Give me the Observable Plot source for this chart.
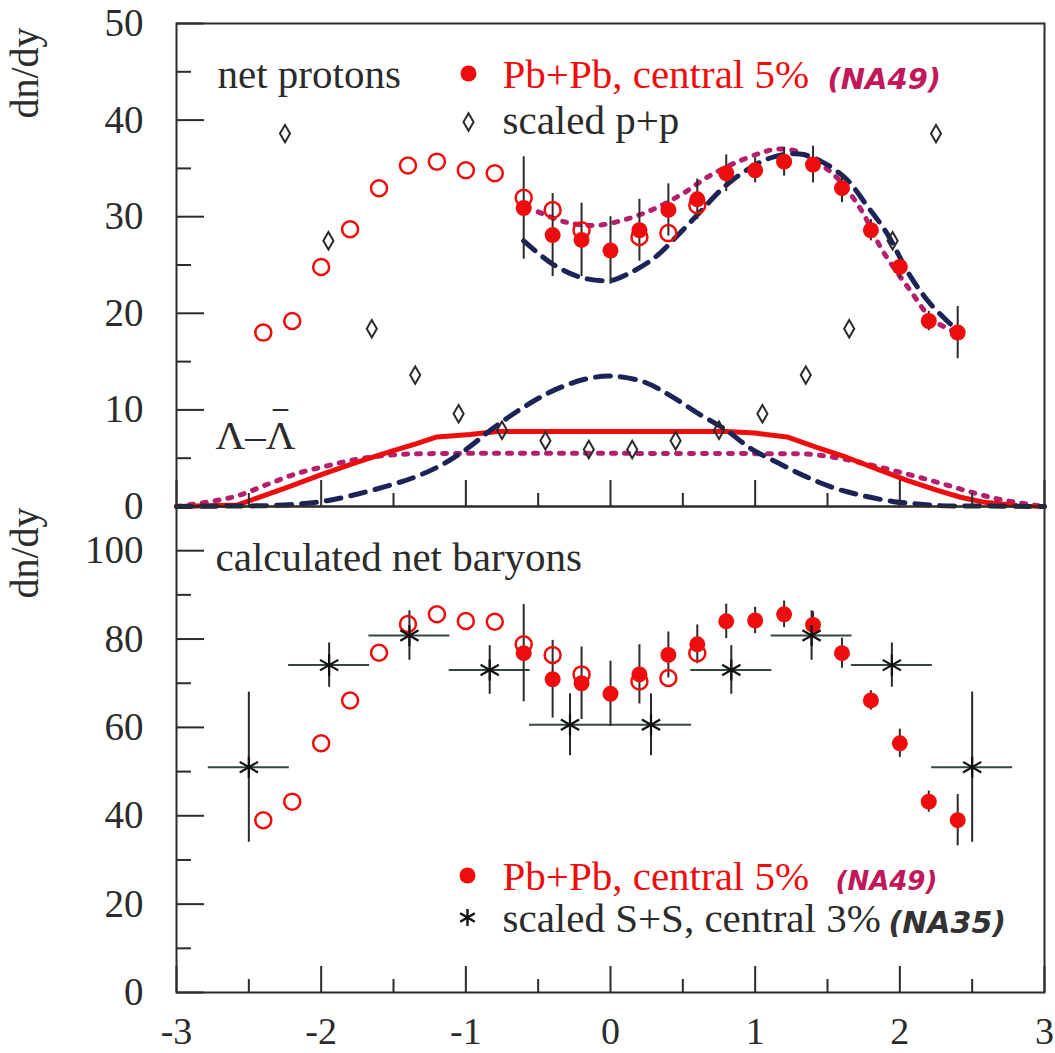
<!DOCTYPE html>
<html>
<head>
<meta charset="utf-8">
<script src="https://cdn.jsdelivr.net/npm/d3@7"></script>
<script src="https://cdn.jsdelivr.net/npm/@observablehq/plot@0.6"></script>
<style>
  body { margin: 0; background: #fff; }
  #chart svg { display: block; overflow: visible; }
</style>
</head>
<body>
<div id="chart"></div>
<script>
// ---------------- DATA ----------------
// Top panel: net protons, Pb+Pb central 5% (NA49), measured (filled)
const ppX   = [-0.6, -0.4, -0.2, 0.0, 0.2, 0.4, 0.6, 0.8, 1.0, 1.2, 1.4, 1.6, 1.8, 2.0, 2.2, 2.4];
const ppY   = [30.9, 28.1, 27.6, 26.5, 28.6, 30.7, 31.8, 34.5, 34.8, 35.7, 35.4, 32.95, 28.6, 24.8, 19.2, 18.0];
const ppErr = [5.3, 4.3, 3.8, 3.5, 3.2, 2.7, 2.1, 1.9, 1.3, 1.5, 1.9, 1.5, 1.1, 1.2, 1.0, 2.7];
// reflected points (open circles)
const ppReflX = [-2.4, -2.2, -2.0, -1.8, -1.6, -1.4, -1.2, -1.0, -0.8, -0.6, -0.4, -0.2, 0.2, 0.4, 0.6];
const ppReflY = [18.0, 19.2, 24.8, 28.7, 32.95, 35.3, 35.7, 34.8, 34.5, 31.95, 30.7, 28.6, 27.9, 28.3, 31.2];
// scaled p+p (diamonds)
const pppX = [-2.25, -1.95, -1.65, -1.35, -1.05, -0.75, -0.45, -0.15, 0.15, 0.45, 0.75, 1.05, 1.35, 1.65, 1.95, 2.25];
const pppY = [38.6, 27.5, 18.4, 13.6, 9.6, 7.9, 6.8, 5.9, 5.9, 6.8, 7.9, 9.6, 13.6, 18.4, 27.5, 38.6];
// model curves, net protons
const npDashX = [-0.6, -0.4, -0.2, 0.0, 0.11, 0.3, 0.46, 0.62, 0.78, 0.97, 1.13, 1.31, 1.46, 1.63, 1.77, 1.91, 2.07, 2.21, 2.37];
const npDashY = [27.5, 25.1, 23.7, 23.4, 24.0, 25.7, 28.0, 30.5, 33.0, 35.1, 36.2, 36.5, 35.7, 33.9, 31.2, 28.3, 23.9, 21.0, 18.6];
const npDotX  = [-0.5, -0.3, -0.1, 0.1, 0.3, 0.5, 0.67, 0.85, 1.04, 1.15, 1.3, 1.54, 1.72, 1.88, 2.07, 2.23, 2.4];
const npDotY  = [30.5, 29.4, 29.1, 29.7, 30.8, 32.4, 34.1, 35.5, 36.6, 37.0, 36.7, 34.4, 31.0, 26.5, 22.4, 19.3, 18.0];
// Lambda - anti-Lambda curves
const lamDashX = [-3, -2.6, -2.35, -2.12, -1.96, -1.8, -1.57, -1.36, -1.18, -0.99, -0.83, -0.67, -0.51, -0.35, -0.17, 0, 0.23, 0.41, 0.61, 0.8, 0.97, 1.16, 1.35, 1.55, 1.75, 1.96, 2.1, 2.26, 2.6, 3];
const lamDashY = [0, 0.05, 0.1, 0.3, 0.6, 1.1, 2.0, 3.0, 4.2, 6.0, 7.9, 9.6, 11.1, 12.3, 13.2, 13.5, 12.9, 11.5, 9.6, 7.9, 6.0, 4.5, 3.1, 1.9, 1.1, 0.5, 0.3, 0.1, 0.05, 0];
const lamSolidX = [-3, -2.58, -2.42, -2.23, -1.98, -1.75, -1.54, -1.34, -1.2, -0.97, -0.78, 0.8, 1.0, 1.22, 1.43, 1.63, 1.84, 2.05, 2.26, 2.42, 2.58, 2.81, 3];
const lamSolidY = [0, 0.15, 1.0, 2.0, 3.4, 4.6, 5.6, 6.5, 7.2, 7.45, 7.76, 7.76, 7.6, 7.2, 6.1, 5.1, 3.9, 2.7, 1.66, 0.96, 0.45, 0.1, 0];
const lamDotX = [-3, -2.79, -2.58, -2.37, -2.17, -1.96, -1.75, -1.54, -1.34, -1.0, 0, 1.31, 1.54, 1.77, 1.96, 2.14, 2.33, 2.49, 2.67, 2.86, 3];
const lamDotY = [0, 0.45, 1.1, 2.3, 3.4, 4.2, 4.9, 5.3, 5.45, 5.5, 5.5, 5.45, 5.1, 4.4, 3.7, 3.0, 2.2, 1.5, 0.8, 0.3, 0];

// Bottom panel: calculated net baryons
const nbX   = [-0.6, -0.4, -0.2, 0.0, 0.2, 0.4, 0.6, 0.8, 1.0, 1.2, 1.4, 1.6, 1.8, 2.0, 2.2, 2.4];
const nbY   = [76.8, 70.9, 70.0, 67.6, 72.0, 76.4, 78.8, 84.0, 84.2, 85.6, 83.2, 76.8, 66.1, 56.4, 43.2, 39.0];
const nbErr = [11, 8.8, 8.2, 7.4, 6.7, 5.2, 4.4, 3.9, 3.0, 3.0, 3.0, 3.4, 2.2, 3.2, 2.4, 5.8];
const nbReflX = [-2.4, -2.2, -2.0, -1.8, -1.6, -1.4, -1.2, -1.0, -0.8, -0.6, -0.4, -0.2, 0.2, 0.4, 0.6];
const nbReflY = [39.0, 43.2, 56.4, 66.1, 76.9, 83.4, 85.6, 84.1, 83.9, 78.8, 76.4, 72.0, 70.4, 71.2, 76.8];
// scaled S+S central 3% (NA35)
const ssX    = [-2.5, -1.945, -1.39, -0.835, -0.28, 0.28, 0.835, 1.39, 1.945, 2.5];
const ssHalf = [0.28, 0.28, 0.28, 0.28, 0.28, 0.28, 0.28, 0.28, 0.28, 0.28];
const ssY    = [51.0, 74.1, 80.8, 73.0, 60.6, 60.6, 73.0, 80.8, 74.1, 51.0];
const ssErr  = [17, 5, 5.6, 5.5, 7, 7, 5.5, 5.6, 5, 17];

// axis ticks
const xMajor = [-3, -2, -1, 0, 1, 2, 3];
const xMinor = [-2.5, -1.5, -0.5, 0.5, 1.5, 2.5];
const yTopMajor = [0, 10, 20, 30, 40, 50];
const yTopMinor = [5, 15, 25, 35, 45];
const yBotMajor = [0, 20, 40, 60, 80, 100];
const yBotMinor = [10, 30, 50, 70, 90];

// ---------------- STYLE ----------------
const W = 1055, ML = 176, MR = 11;
const PW = W - ML - MR;
const serif = "Liberation Serif, Times New Roman, serif";
const hand = "DejaVu Sans, sans-serif";
const ink = "#2b2b2b";
const red = "#ee0d0d";
const navy = "#1c2357";
const magenta = "#b3206e";
const crimson = "#c0185a";

const tbl = (xs, ys, es) => xs.map((x, i) => ({x, y: ys[i], e: es ? es[i] : 0}));
const svgStyle = {background: "transparent", overflow: "visible", fontFamily: serif, color: ink};

function frameTicks(ph, yMaj, yMin) {
  return [
    Plot.tickY(yMaj, {y: d => d, stroke: ink, strokeWidth: 2, insetRight: PW - 28}),
    Plot.tickY(yMin, {y: d => d, stroke: ink, strokeWidth: 2, insetRight: PW - 15}),
    Plot.tickX(xMajor, {x: d => d, stroke: ink, strokeWidth: 2, insetTop: ph - 26}),
    Plot.tickX(xMinor, {x: d => d, stroke: ink, strokeWidth: 2, insetTop: ph - 13}),
    Plot.frame({stroke: ink, strokeWidth: 2}),
    Plot.axisY(yMaj, {label: null, tickSize: 0, tickPadding: 33, fontSize: 39, fontFamily: serif, fill: ink, tickFormat: d => String(d)})
  ];
}
const label = (t, dx, dy, opts = {}) => Plot.text([t], {text: d => d, frameAnchor: "top-left", dx, dy, textAnchor: "start", lineAnchor: "bottom", fontSize: 41, fontFamily: serif, fill: ink, ...opts});

// ---------------- TOP PANEL ----------------
const topH = 506, topMT = 23, topPH = topH - topMT;
const topPlot = Plot.plot({
  width: W, height: topH,
  marginLeft: ML, marginRight: MR, marginTop: topMT, marginBottom: 0,
  x: {domain: [-3, 3], axis: null, label: null},
  y: {domain: [0, 50], label: null},
  style: svgStyle,
  marks: [
    Plot.line(tbl(lamDotX, lamDotY), {x: "x", y: "y", stroke: magenta, strokeWidth: 5, strokeDasharray: "4,9", curve: "monotone-x"}),
    Plot.line(tbl(lamSolidX, lamSolidY), {x: "x", y: "y", stroke: red, strokeWidth: 5, curve: "linear"}),
    Plot.line(tbl(lamDashX, lamDashY), {x: "x", y: "y", stroke: navy, strokeWidth: 5, strokeDasharray: "15,10", curve: "catmull-rom"}),
    Plot.line(tbl(npDotX, npDotY), {x: "x", y: "y", stroke: magenta, strokeWidth: 5, strokeDasharray: "4,9", curve: "catmull-rom"}),
    Plot.line(tbl(npDashX, npDashY), {x: "x", y: "y", stroke: navy, strokeWidth: 5, strokeDasharray: "15,10", curve: "catmull-rom"}),
    Plot.ruleX(tbl(ppX, ppY, ppErr), {x: "x", y1: d => d.y - d.e, y2: d => d.y + d.e, stroke: ink, strokeWidth: 2}),
    Plot.dot(tbl(ppX, ppY), {x: "x", y: "y", r: 8, fill: red}),
    Plot.dot(tbl(ppReflX, ppReflY), {x: "x", y: "y", r: 8, fill: "none", stroke: red, strokeWidth: 2.5}),
    Plot.dot(tbl(pppX, pppY), {x: "x", y: "y", r: 5.3, symbol: "diamond", fill: "none", stroke: ink, strokeWidth: 2}),
    ...frameTicks(topPH, yTopMajor, yTopMinor),
    Plot.text(["dn/dy"], {text: d => d, frameAnchor: "top-left", dx: -151, dy: 95, rotate: -90, textAnchor: "start", lineAnchor: "middle", fontSize: 40, fontFamily: serif, fill: ink}),
    label("net protons", 41, 64),
    label("Λ–Λ", 39, 425),
    // bar of the anti-Lambda, set just above the second Λ
    Plot.text(["_"], {text: d => d, frameAnchor: "top-left", dx: 104, dy: 383, textAnchor: "middle", lineAnchor: "bottom", fontSize: 30, fontWeight: "bold", fontFamily: serif, fill: ink}),
    Plot.dot([0], {frameAnchor: "top-left", dx: 292, dy: 50, r: 8, fill: red}),
    label("Pb+Pb, central 5%", 326, 64, {fill: red}),
    label("(NA49)", 651, 65, {fill: crimson, fontFamily: hand, fontStyle: "italic", fontWeight: "bold", fontSize: 29}),
    Plot.dot([0], {frameAnchor: "top-left", dx: 292, dy: 98.5, r: 5.3, symbol: "diamond", fill: "none", stroke: ink, strokeWidth: 2}),
    label("scaled p+p", 326, 110)
  ]
});

// ---------------- BOTTOM PANEL ----------------
const botH = 547, botMB = 61, botPH = botH - botMB;
const botPlot = Plot.plot({
  width: W, height: botH,
  marginLeft: ML, marginRight: MR, marginTop: 0, marginBottom: botMB,
  x: {domain: [-3, 3], label: null},
  y: {domain: [0, 110], label: null},
  style: svgStyle,
  marks: [
    Plot.ruleY(ssX.map((x, i) => ({x, w: ssHalf[i], y: ssY[i]})), {y: "y", x1: d => d.x - d.w, x2: d => d.x + d.w, stroke: "#33483b", strokeWidth: 2}),
    Plot.ruleX(tbl(ssX, ssY, ssErr), {x: "x", y1: d => d.y - d.e, y2: d => d.y + d.e, stroke: ink, strokeWidth: 2}),
    Plot.ruleX(tbl(nbX, nbY, nbErr), {x: "x", y1: d => d.y - d.e, y2: d => d.y + d.e, stroke: ink, strokeWidth: 2}),
    Plot.dot(tbl(nbX, nbY), {x: "x", y: "y", r: 8, fill: red}),
    Plot.dot(tbl(nbReflX, nbReflY), {x: "x", y: "y", r: 8, fill: "none", stroke: red, strokeWidth: 2.5}),
    Plot.dot(tbl(ssX, ssY), {x: "x", y: "y", r: 10, symbol: "asterisk", stroke: "#111", strokeWidth: 2.2}),
    ...frameTicks(botPH, yBotMajor, yBotMinor),
    Plot.axisX(xMajor, {label: null, tickSize: 0, tickPadding: 25, fontSize: 38, fontFamily: serif, fill: ink, tickFormat: d => String(d)}),
    Plot.text(["dn/dy"], {text: d => d, frameAnchor: "top-left", dx: -151, dy: 92, rotate: -90, textAnchor: "start", lineAnchor: "middle", fontSize: 40, fontFamily: serif, fill: ink}),
    label("calculated net baryons", 39, 64),
    Plot.dot([0], {frameAnchor: "top-left", dx: 291, dy: 369, r: 8, fill: red}),
    label("Pb+Pb, central 5%", 326, 383, {fill: red}),
    label("(NA49)", 659, 383, {fill: crimson, fontFamily: hand, fontStyle: "italic", fontWeight: "bold", fontSize: 26}),
    Plot.dot([0], {frameAnchor: "top-left", dx: 291, dy: 411, r: 8, symbol: "asterisk", stroke: "#111", strokeWidth: 2.4}),
    label("scaled S+S, central 3%", 326, 425),
    label("(NA35)", 712, 426, {fill: "#333", fontFamily: hand, fontStyle: "italic", fontWeight: "bold", fontSize: 30})
  ]
});

const root = document.getElementById("chart");
root.appendChild(topPlot);
root.appendChild(botPlot);
</script>
</body>
</html>
